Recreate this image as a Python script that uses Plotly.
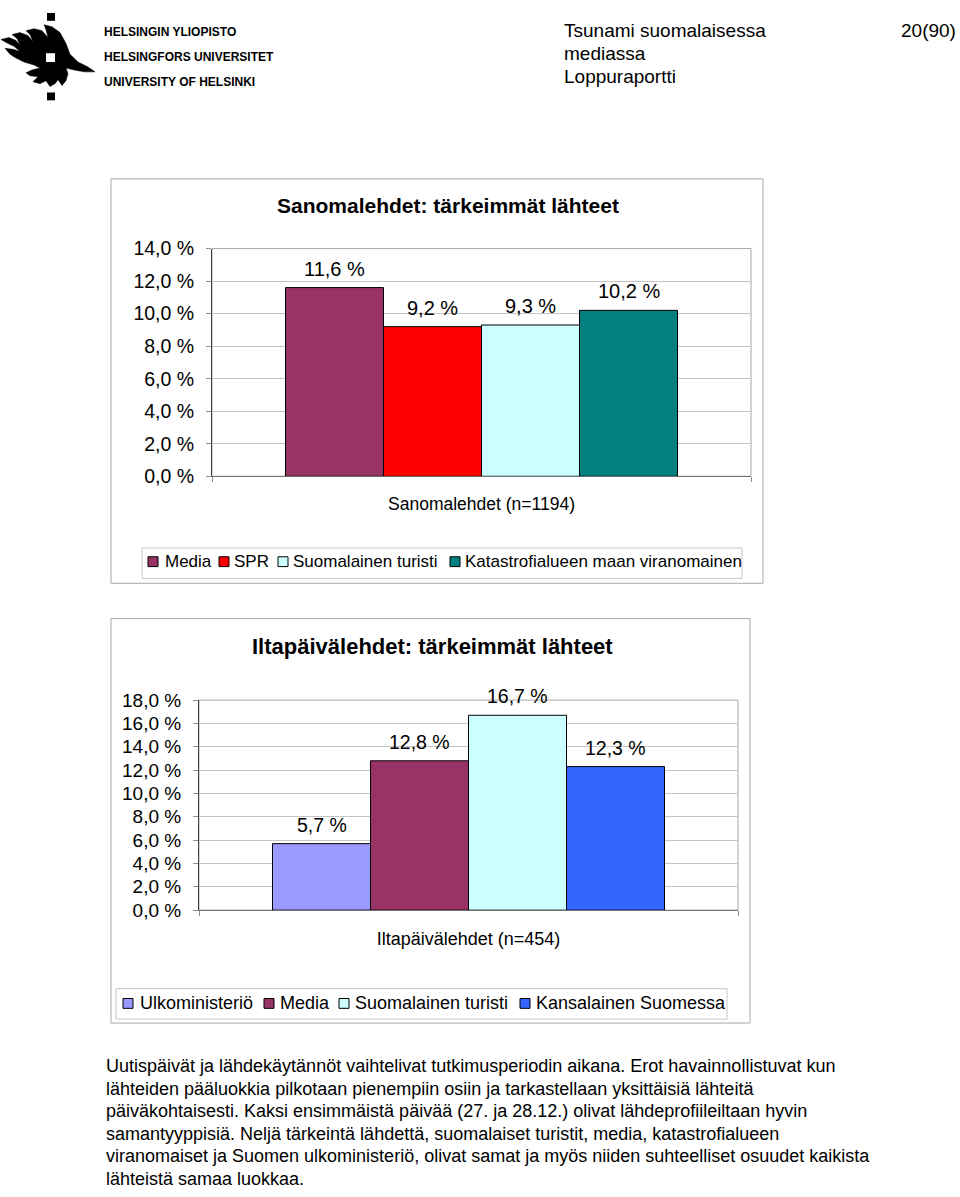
import plotly.graph_objects as go

# ---------------- data ----------------
san_categories = ["Media", "SPR", "Suomalainen turisti", "Katastrofialueen maan viranomainen"]
san_values = [11.6, 9.2, 9.3, 10.2]
san_colors = ["#993366", "#FF0000", "#CCFFFF", "#008080"]
san_title = "Sanomalehdet: tärkeimmät lähteet"
san_axis_label = "Sanomalehdet (n=1194)"
san_ticks = [0, 2, 4, 6, 8, 10, 12, 14]

ilta_categories = ["Ulkoministeriö", "Media", "Suomalainen turisti", "Kansalainen Suomessa"]
ilta_values = [5.7, 12.8, 16.7, 12.3]
ilta_colors = ["#9999FF", "#993366", "#CCFFFF", "#3366FF"]
ilta_title = "Iltapäivälehdet: tärkeimmät lähteet"
ilta_axis_label = "Iltapäivälehdet (n=454)"
ilta_ticks = [0, 2, 4, 6, 8, 10, 12, 14, 16, 18]

header_lines = ["Tsunami suomalaisessa", "mediassa", "Loppuraportti"]
page_number = "20(90)"
logo_lines = ["HELSINGIN YLIOPISTO", "HELSINGFORS UNIVERSITET", "UNIVERSITY OF HELSINKI"]
paragraph_lines = [
    "Uutispäivät ja lähdekäytännöt vaihtelivat tutkimusperiodin aikana. Erot havainnollistuvat kun",
    "lähteiden pääluokkia pilkotaan pienempiin osiin ja tarkastellaan yksittäisiä lähteitä",
    "päiväkohtaisesti. Kaksi ensimmäistä päivää (27. ja 28.12.) olivat lähdeprofiileiltaan hyvin",
    "samantyyppisiä. Neljä tärkeintä lähdettä, suomalaiset turistit, media, katastrofialueen",
    "viranomaiset ja Suomen ulkoministeriö, olivat samat ja myös niiden suhteelliset osuudet kaikista",
    "lähteistä samaa luokkaa.",
]

W, H = 960, 1197
FONT = "Liberation Sans, Arial, sans-serif"


def px(x):
    return x / W


def py(y):
    return 1 - y / H


def pct(v):
    return f"{v:.1f}".replace(".", ",") + " %"


fig = go.Figure()
shapes = []
annotations = []


def add_chart(cats, vals, colors, title, axis_label, ticks, ax, box, plot, title_cx, title_y,
              legend_box, legend_items, legend_y, fs):
    xa = "x" if ax == 1 else f"x{ax}"
    ya = "y" if ax == 1 else f"y{ax}"
    for i, (c, v, col) in enumerate(zip(cats, vals, colors)):
        fig.add_trace(go.Bar(
            x=[i], y=[v], width=1, name=c, xaxis=xa, yaxis=ya,
            marker=dict(color=col, line=dict(color="#000000", width=1)),
            showlegend=False, hovertemplate=f"{c}: %{{y:.1f}} %<extra></extra>",
        ))
        annotations.append(dict(
            x=i, y=v, xref=xa, yref=ya, text=pct(v), showarrow=False,
            yanchor="middle", yshift=19, font=dict(size=fs["label"], color="#000", family=FONT),
        ))
    x0, y0, x1, y1 = plot
    xkey = "xaxis" if ax == 1 else f"xaxis{ax}"
    ykey = "yaxis" if ax == 1 else f"yaxis{ax}"
    n = len(vals)
    pad = 0.75
    fig.update_layout(**{
        xkey: dict(
            domain=[px(x0), px(x1)], anchor=ya, range=[-0.5 - pad, n - 0.5 + pad],
            tickmode="array", tickvals=[(n - 1) / 2], ticktext=[axis_label],
            ticks="", showgrid=False, zeroline=False,
            showline=True, linecolor="#707070", linewidth=1,
            tickfont=dict(size=fs["axis"], color="#000", family=FONT),
            ticklabelstandoff=fs["standoff"],
            minor=dict(tickmode="array", tickvals=[-0.5 - pad, n - 0.5 + pad],
                       ticks="outside", ticklen=5, tickcolor="#909090", showgrid=False),
            fixedrange=True,
        ),
        ykey: dict(
            domain=[py(y1), py(y0)], anchor=xa, range=[0, ticks[-1]],
            tickmode="array", tickvals=ticks, ticktext=[pct(t) for t in ticks],
            showgrid=True, gridcolor="#c4c4c4", gridwidth=1, zeroline=False,
            showline=True, linecolor="#404040", linewidth=1,
            ticks="outside", ticklen=5, tickcolor="#909090",
            tickfont=dict(size=fs["tick"], color="#000", family=FONT),
            ticklabelstandoff=8, fixedrange=True,
        ),
    })
    shapes.append(dict(type="rect", xref="paper", yref="paper",
                       x0=px(x0), x1=px(x1), y0=py(y1), y1=py(y0),
                       line=dict(color="#a8a8a8", width=1), layer="below"))
    bx0, by0, bx1, by1 = box
    shapes.append(dict(type="rect", xref="paper", yref="paper",
                       x0=px(bx0), x1=px(bx1), y0=py(by1), y1=py(by0),
                       line=dict(color="#a8a8a8", width=1)))
    annotations.append(dict(x=px(title_cx), y=py(title_y), xref="paper", yref="paper",
                            text=f"<b>{title}</b>", showarrow=False, xanchor="center", yanchor="middle",
                            font=dict(size=fs["title"], color="#000", family=FONT)))
    lx0, ly0, lx1, ly1 = legend_box
    shapes.append(dict(type="rect", xref="paper", yref="paper",
                       x0=px(lx0), x1=px(lx1), y0=py(ly1), y1=py(ly0),
                       line=dict(color="#c8c8c8", width=1)))
    for (sq_x, tx), c, col in zip(legend_items, cats, colors):
        shapes.append(dict(type="rect", xref="paper", yref="paper",
                           x0=px(sq_x), x1=px(sq_x + 10), y0=py(legend_y + 5), y1=py(legend_y - 5),
                           fillcolor=col, line=dict(color="#000", width=1)))
        annotations.append(dict(x=px(tx), y=py(legend_y), xref="paper", yref="paper",
                                text=c, showarrow=False, xanchor="left", yanchor="middle",
                                font=dict(size=fs["legend"], color="#000", family=FONT)))


add_chart(san_categories, san_values, san_colors, san_title, san_axis_label, san_ticks, 1,
          box=(111, 171, 763, 583), plot=(212, 242, 751, 474), title_cx=448, title_y=198,
          legend_box=(142, 547, 742, 578), legend_items=[(148, 163), (219, 232), (278, 291), (450, 463)],
          legend_y=561, fs=dict(label=20, axis=17.5, title=21, tick=19.5, legend=17, standoff=12))

add_chart(ilta_categories, ilta_values, ilta_colors, ilta_title, ilta_axis_label, ilta_ticks, 2,
          box=(111, 619, 750, 1031), plot=(199, 702, 738, 916), title_cx=432, title_y=647,
          legend_box=(116, 996, 727, 1027), legend_items=[(123, 138), (264, 278), (339, 353), (520, 534)],
          legend_y=1011, fs=dict(label=19.5, axis=18, title=22, tick=19, legend=18, standoff=12))

for i, t in enumerate(header_lines):
    annotations.append(dict(x=px(562), y=py(20 + i * 23.5), xref="paper", yref="paper", text=t,
                            showarrow=False, xanchor="left", yanchor="middle",
                            font=dict(size=19, color="#000", family=FONT)))
annotations.append(dict(x=px(958), y=py(20), xref="paper", yref="paper", text=page_number,
                        showarrow=False, xanchor="right", yanchor="middle",
                        font=dict(size=19, color="#000", family=FONT)))

for i, t in enumerate(logo_lines):
    annotations.append(dict(x=px(102), y=py(21 + i * 25.5), xref="paper", yref="paper", text=f"<b>{t}</b>",
                            showarrow=False, xanchor="left", yanchor="middle",
                            font=dict(size=12, color="#000", family=FONT)))

flame = [(1, 29), (9, 27), (16, 30), (20, 35), (17, 28), (12, 24), (20, 22), (28, 25), (33, 31),
         (30, 24), (26, 20), (34, 18), (42, 20), (48, 27), (46, 19), (44, 14), (52, 16), (60, 22),
         (66, 33), (70, 44), (78, 52), (88, 57), (95, 62), (84, 62), (74, 60), (66, 58),
         (68, 64), (66, 71), (62, 76), (58, 70), (55, 74), (50, 77), (46, 71), (40, 74), (33, 72),
         (38, 67), (30, 66), (26, 63), (32, 60), (40, 58), (34, 55), (24, 52), (16, 48), (10, 44),
         (5, 38), (13, 39), (20, 41), (14, 36), (8, 33)]
path = "M " + " L ".join(f"{px(x):.5f},{py(y):.5f}" for x, y in flame) + " Z"
shapes.append(dict(type="path", xref="paper", yref="paper", path=path,
                   fillcolor="#000", line=dict(color="#000", width=0.5)))
shapes.append(dict(type="rect", xref="paper", yref="paper", x0=px(46), x1=px(55), y0=py(52), y1=py(43),
                   fillcolor="#fff", line=dict(width=0)))
for (sy0, sy1) in [(2, 10), (83, 91)]:
    shapes.append(dict(type="rect", xref="paper", yref="paper", x0=px(47), x1=px(55), y0=py(sy1), y1=py(sy0),
                       fillcolor="#000", line=dict(width=0)))

for i, t in enumerate(paragraph_lines):
    annotations.append(dict(x=px(104), y=py(1075 + i * 22.9), xref="paper", yref="paper", text=t,
                            showarrow=False, xanchor="left", yanchor="middle",
                            font=dict(size=18, color="#000", family=FONT)))

fig.update_layout(
    width=W, height=H, margin=dict(l=0, r=0, t=0, b=0),
    paper_bgcolor="#ffffff", plot_bgcolor="#ffffff",
    barmode="overlay", showlegend=False,
    font=dict(family=FONT, color="#000"),
    shapes=shapes, annotations=annotations,
)

fig.write_html("out.html")
